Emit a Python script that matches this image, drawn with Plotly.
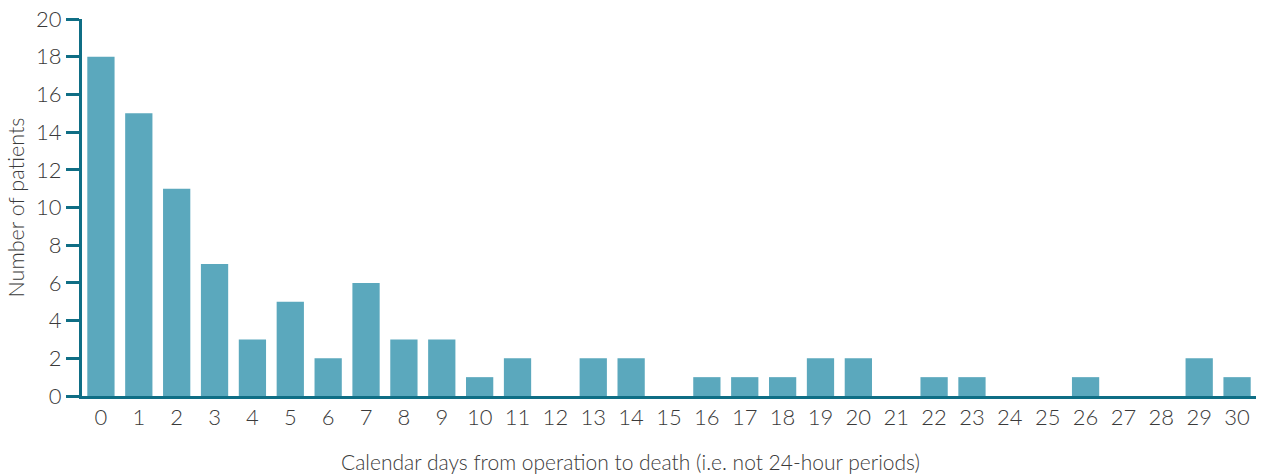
import plotly.graph_objects as go

days = list(range(31))
patients = [18, 15, 11, 7, 3, 5, 2, 6, 3, 3, 1, 2, 0, 2, 2, 0, 1, 1, 1, 2, 2, 0, 1, 1, 0, 0, 1, 0, 0, 2, 1]

axis_col = '#0f6e85'
bar_col = '#5ba8bd'
font = 'Lato'
txt = '#3a3a3a'

fig = go.Figure()
fig.add_trace(go.Bar(x=days, y=patients, marker_color=bar_col, marker_line_width=0, width=0.72))

# x axis title is centred on the whole page, not the plot area -> use layout title
fig.update_layout(
    width=1261, height=475,
    margin=dict(l=82, r=5, t=19, b=79),
    plot_bgcolor='white', paper_bgcolor='white',
    font=dict(family=font, color=txt, size=22, weight=300),
    showlegend=False,
    title=dict(text='Calendar days from operation to death (i.e. not 24-hour periods)',
               font=dict(size=21, color=txt, weight=300),
               x=0.5, xref='container', xanchor='center',
               y=0.027, yref='container', yanchor='middle'),
)
fig.update_xaxes(
    range=[-0.5, 30.5], tickmode='array', tickvals=days, ticktext=[str(d) for d in days],
    showline=True, linecolor=axis_col, linewidth=3, showgrid=False, ticks='',
    automargin=False,
    tickfont=dict(size=22, weight=300),
)
fig.update_yaxes(
    range=[0, 20], tickvals=list(range(0, 21, 2)),
    showline=True, linecolor=axis_col, linewidth=3, showgrid=False,
    ticks='outside', ticklen=13, tickwidth=3, tickcolor=axis_col,
    zeroline=False, automargin=False, ticklabeloverflow='allow',
    title=dict(text='Number of patients', font=dict(size=21.5, color=txt, weight=300), standoff=6),
    tickfont=dict(size=22, weight=300),
)

# drop the default 8px body margin so the figure sits at the page corner
fig.write_html('out.html', config={'displayModeBar': False},
               post_script="document.body.style.margin='0';")
